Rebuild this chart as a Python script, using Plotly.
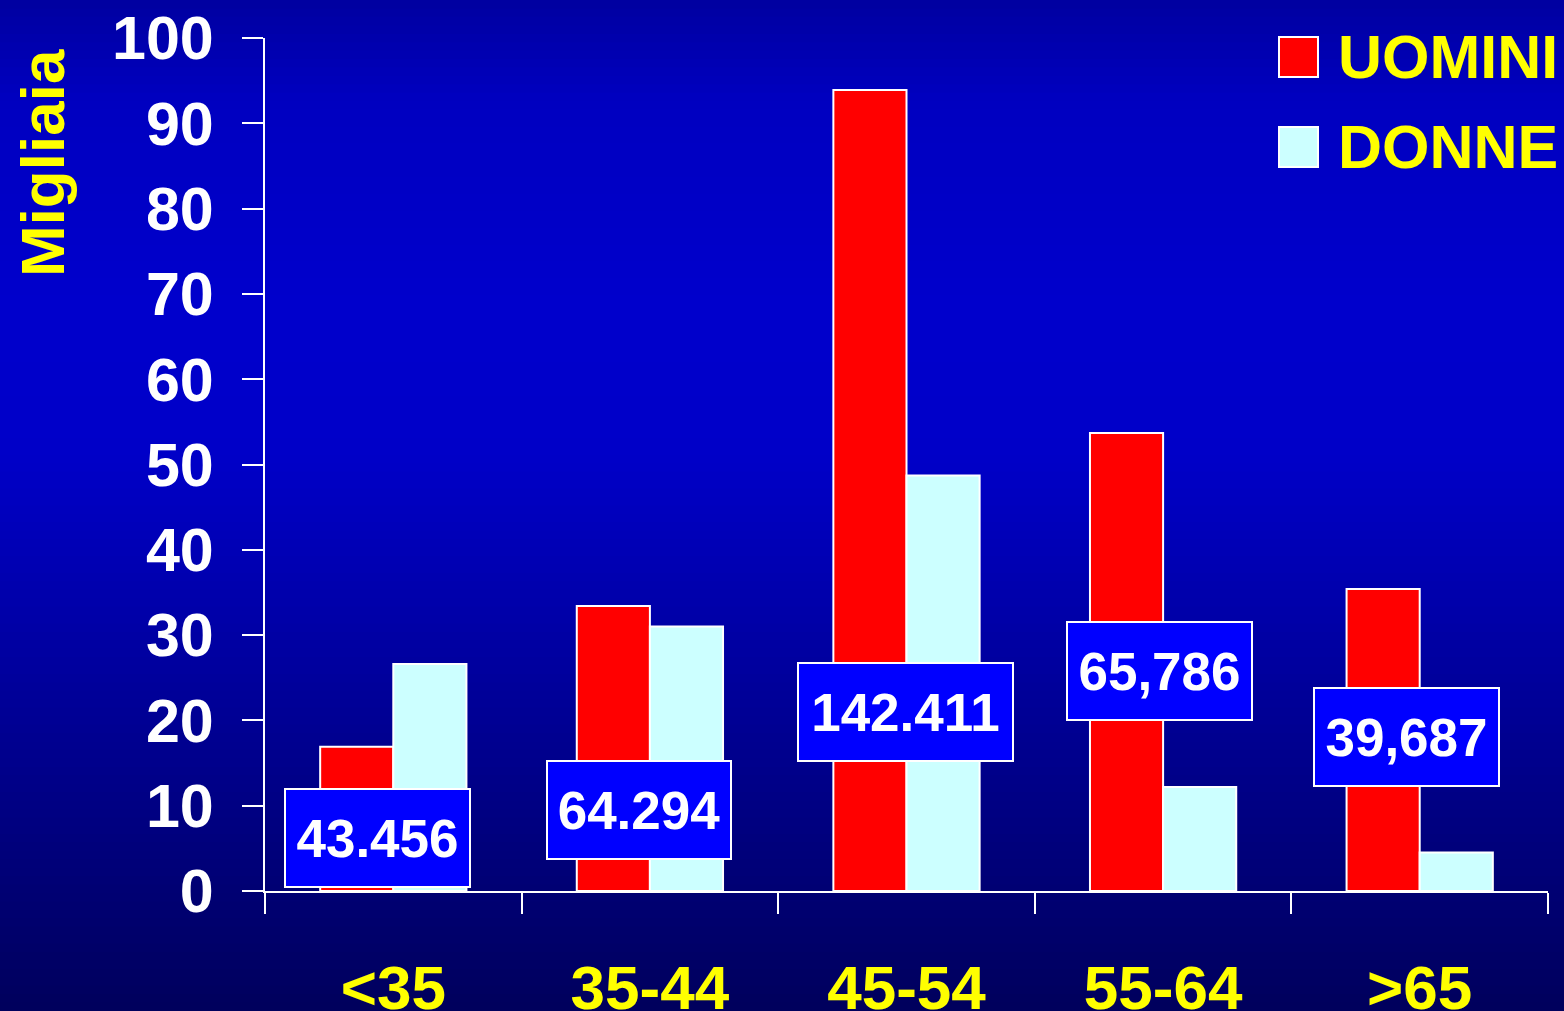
import plotly.graph_objects as go

categories = ["<35", "35-44", "45-54", "55-64", ">65"]
uomini = [16.9, 33.4, 93.9, 53.7, 35.4]
donne = [26.6, 31.0, 48.7, 12.2, 4.5]
series_names = ["UOMINI", "DONNE"]
series_colors = ["#ff0000", "#ccffff"]

box_labels = ["43.456", "64.294", "142.411", "65,786", "39,687"]
box_x = [-0.062, 0.958, 1.996, 2.986, 3.949]
box_y = [6.27, 9.55, 21.04, 25.8, 18.1]
box_w = [183, 182, 213, 183, 183]

W, H = 1564, 1011
L, R, T, B = 265, 16, 38, 120
pw, ph = W - L - R, H - T - B

FONT = "Liberation Sans, Arial, Helvetica, sans-serif"


def px_x(p):
    return (p - L) / pw


def px_y(p):
    return (H - B - p) / ph


fig = go.Figure()
for name, vals, col in zip(series_names, [uomini, donne], series_colors):
    fig.add_trace(go.Bar(x=categories, y=vals, name=name,
                         marker=dict(color=col, line=dict(color="white", width=2))))

# gradient background
stops = [(0.0, 160), (0.1, 192), (0.3, 204), (0.45, 200), (0.7, 150), (1.0, 92)]


def blue_at(t):
    for (t0, c0), (t1, c1) in zip(stops[:-1], stops[1:]):
        if t0 <= t <= t1:
            return c0 + (c1 - c0) * (t - t0) / (t1 - t0)
    return stops[-1][1]


shapes = []
n = 120
for i in range(n):
    y0p = H * i / n
    y1p = H * (i + 1) / n + 1
    c = int(round(blue_at((i + 0.5) / n)))
    shapes.append(dict(type="rect", xref="paper", yref="paper", layer="below",
                       x0=px_x(-5), x1=px_x(W + 5), y0=px_y(y1p), y1=px_y(y0p),
                       fillcolor=f"rgb(0,0,{c})", line=dict(width=0)))

# manual legend
leg_y = [57, 147]
annotations = []
for name, col, yc in zip(series_names, series_colors, leg_y):
    shapes.append(dict(type="rect", xref="paper", yref="paper",
                       x0=px_x(1279), x1=px_x(1318), y0=px_y(yc + 20), y1=px_y(yc - 20),
                       fillcolor=col, line=dict(color="white", width=2)))
    annotations.append(dict(xref="paper", yref="paper", x=px_x(1336), y=px_y(yc),
                            xanchor="left", yanchor="middle", showarrow=False, text=name,
                            font=dict(family=FONT, size=61, color="#ffff00", weight="bold")))

annotations.append(dict(xref="paper", yref="paper", x=px_x(42), y=px_y(163),
                        xanchor="center", yanchor="middle", textangle=-90, showarrow=False,
                        text="Migliaia",
                        font=dict(family=FONT, size=62, color="#ffff00", weight="bold")))

for txt, bx, by, bw in zip(box_labels, box_x, box_y, box_w):
    annotations.append(dict(x=bx, y=by, xref="x", yref="y", showarrow=False, text=txt,
                            width=bw, height=96, borderpad=0, borderwidth=2,
                            bordercolor="white", bgcolor="#0000ff",
                            font=dict(family=FONT, size=53, color="white", weight="bold")))

fig.update_layout(
    width=W, height=H,
    margin=dict(l=L, r=R, t=T, b=B, autoexpand=False),
    paper_bgcolor="#000080", plot_bgcolor="rgba(0,0,0,0)",
    barmode="group", bargap=0.43, bargroupgap=0,
    showlegend=False,
    shapes=shapes, annotations=annotations,
)
fig.update_xaxes(showline=True, linecolor="white", linewidth=2, automargin=False,
                 ticks="outside", tickson="boundaries", ticklen=21, tickwidth=2, tickcolor="white",
                 tickfont=dict(family=FONT, size=62, color="#ffff00", weight="bold"),
                 ticklabelstandoff=42, showgrid=False, zeroline=False)
fig.update_yaxes(range=[0, 100], dtick=10, showline=True, linecolor="white", linewidth=2,
                 automargin=False,
                 ticks="outside", ticklen=21, tickwidth=2, tickcolor="white",
                 tickfont=dict(family=FONT, size=61, color="white", weight="bold"),
                 ticklabelstandoff=16, showgrid=False, zeroline=False)

fig.write_html("out.html", config={"displayModeBar": False},
               post_script="document.body.style.margin='0px';document.body.style.background='#000080';")
